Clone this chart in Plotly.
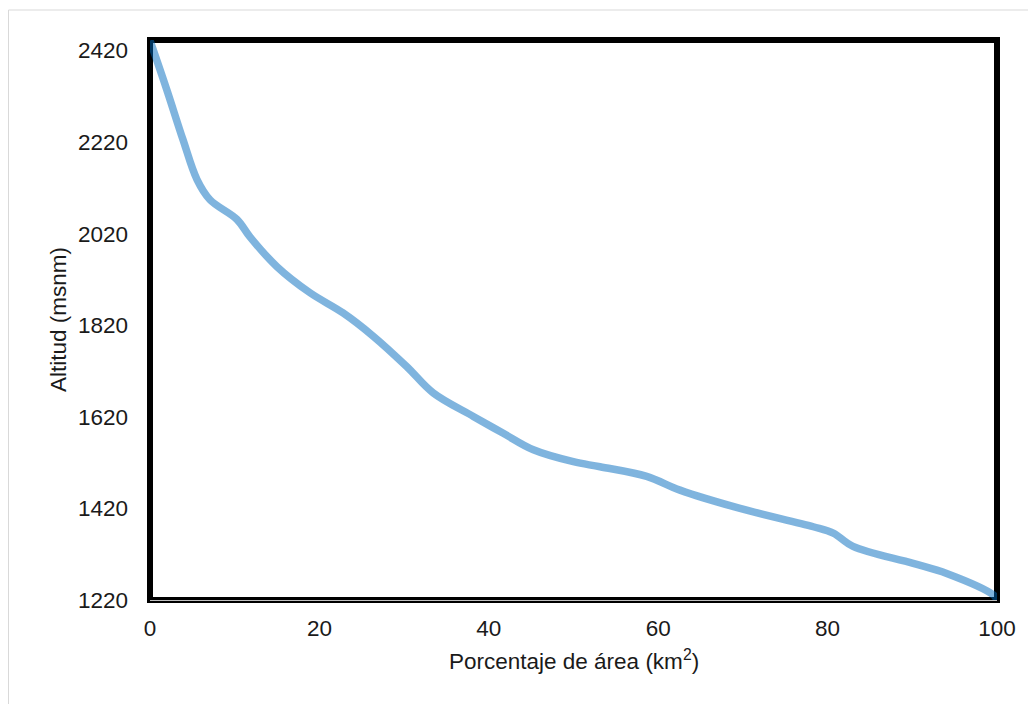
import plotly.graph_objects as go

area_pct = [0.0, 1.97, 3.9, 5.55, 7.08, 10.27, 11.8, 14.99, 18.89, 22.79, 26.37, 30.3,
            33.45, 38.17, 41.71, 45.26, 49.98, 53.13, 58.64, 62.57, 69.66, 78.31, 80.67,
            83.0, 90.1, 94.06, 99.57, 100.0]
altitude = [2442, 2335, 2225, 2138, 2094, 2051, 2013, 1948, 1891, 1847, 1796, 1730,
            1672, 1621, 1584, 1548, 1522, 1511, 1490, 1460, 1420, 1380, 1366,
            1337, 1300, 1278, 1231, 1220]
y_ticks = [1220, 1420, 1620, 1820, 2020, 2220, 2420]
x_ticks = [0, 20, 40, 60, 80, 100]

W, H = 1036, 704
OFF = 8  # page body margin offset
L, T = 150 - OFF, 40 - OFF
R = W - (997 - OFF)
B = H - (600 - OFF)
pw, ph = W - L - R, H - T - B


def px_x(sx):
    return (sx - OFF - L) / pw


def px_y(sy):
    return (H - B - (sy - OFF)) / ph


fig = go.Figure()
fig.add_trace(go.Scatter(
    x=area_pct, y=altitude, mode="lines",
    line=dict(color="rgba(0,106,190,0.5)", width=7.5, shape="spline", smoothing=1.0),
    hoverinfo="skip", showlegend=False,
))

font = dict(family="Liberation Sans, Arial, sans-serif", size=22.5, color="#1a1a1a")

fig.update_layout(
    width=W, height=H,
    margin=dict(l=L, r=R, t=T, b=B, autoexpand=False),
    paper_bgcolor="white", plot_bgcolor="white",
    font=font,
    xaxis=dict(
        range=[0, 100], tickvals=x_ticks, ticktext=[str(v) for v in x_ticks],
        showgrid=False, zeroline=False, showline=True, linecolor="#BFBFBF", linewidth=1,
        ticks="", tickfont=font, ticklabelstandoff=8, automargin=False,
    ),
    yaxis=dict(
        range=[1220, 2443], tickvals=y_ticks, ticktext=[str(v) for v in y_ticks],
        showgrid=False, zeroline=False, showline=False,
        ticks="", tickfont=font, ticklabelstandoff=21, automargin=False,
    ),
    annotations=[
        dict(text="Porcentaje de área (km<sup>2</sup>)", xref="paper", yref="paper",
             x=0.5, y=px_y(660), xanchor="center", yanchor="middle",
             showarrow=False, font=font),
        dict(text="Altitud (msnm)", xref="paper", yref="paper",
             x=px_x(58), y=0.5, xanchor="center", yanchor="middle",
             textangle=-90, showarrow=False, font=font),
    ],
    shapes=[
        dict(type="rect", xref="paper", yref="paper", x0=0, x1=1, y0=0, y1=1,
             line=dict(color="black", width=6), fillcolor="rgba(0,0,0,0)", layer="below"),
        dict(type="rect", xref="paper", yref="paper",
             x0=px_x(8.5), x1=px_x(1060),
             y0=px_y(730), y1=px_y(10),
             line=dict(color="#D9D9D9", width=1), fillcolor="rgba(0,0,0,0)", layer="below"),
    ],
)

fig.write_html("out.html")
